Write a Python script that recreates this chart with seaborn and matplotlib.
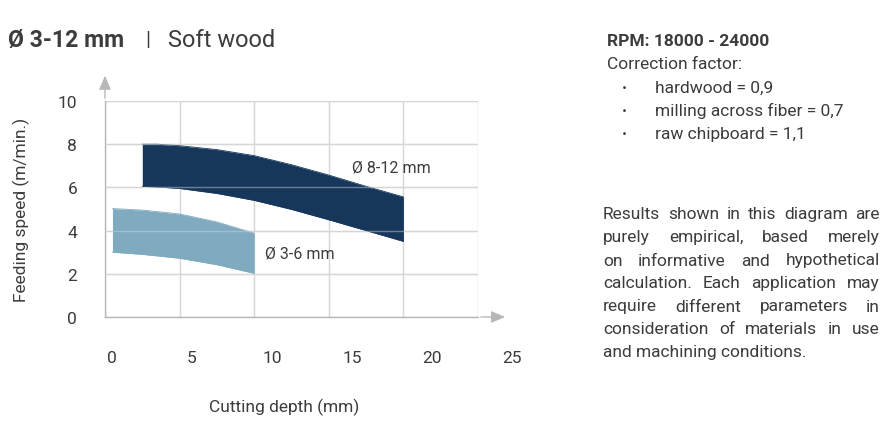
import matplotlib
matplotlib.use("Agg")
import matplotlib.pyplot as plt
import seaborn as sns

# band data (cutting depth mm -> feeding speed m/min)
big_x = [2.5, 3.5, 5, 7.5, 10, 12.5, 15, 17.5, 20]
big_top = [8.0, 8.0, 7.93, 7.75, 7.47, 7.05, 6.57, 6.05, 5.56]
big_bottom = [6.05, 6.02, 5.95, 5.72, 5.4, 4.98, 4.5, 4.0, 3.5]

small_x = [0.5, 2.5, 5, 7.5, 10]
small_top = [5.02, 4.95, 4.77, 4.4, 3.88]
small_bottom = [3.0, 2.9, 2.72, 2.42, 2.02]

band_labels = ["\u00d8 8-12 mm", "\u00d8 3-6 mm"]
x_ticks = [0, 5, 10, 15, 20, 25]
y_ticks = [0, 2, 4, 6, 8, 10]

corrections = ["hardwood = 0,9", "milling across fiber = 0,7", "raw chipboard = 1,1"]
note_lines = [
    "Results shown in this diagram are",
    "purely empirical, based merely",
    "on informative and hypothetical",
    "calculation. Each application may",
    "require different parameters in",
    "consideration of materials in use",
    "and machining conditions.",
]

DARK = "#16375b"
LIGHT = "#7faac0"
TXT = "#3c3c3c"
GRID = "#d6d6d6"
AXC = "#b8b8b8"
FS = 12.5

sns.set_theme(style="white")
plt.rcParams["font.family"] = ["Roboto", "DejaVu Sans"]

fig = plt.figure(figsize=(8.95, 4.27), dpi=100)
ax = fig.add_axes([0.1173, 0.2553, 0.4168, 0.5058])

ax.fill_between(big_x, big_bottom, big_top, color=DARK, lw=0, zorder=2)
ax.fill_between(small_x, small_bottom, small_top, color=LIGHT, lw=0, zorder=2)
sns.lineplot(x=big_x, y=big_top, ax=ax, color=DARK, lw=0.6, zorder=2)
sns.lineplot(x=big_x, y=big_bottom, ax=ax, color=DARK, lw=0.6, zorder=2)
sns.lineplot(x=small_x, y=small_top, ax=ax, color=LIGHT, lw=0.6, zorder=2)
sns.lineplot(x=small_x, y=small_bottom, ax=ax, color=LIGHT, lw=0.6, zorder=2)

ax.text(16.55, 6.94, band_labels[0], color=TXT, fontsize=11.5, va="center", ha="left", zorder=3)
ax.text(10.72, 2.96, band_labels[1], color=TXT, fontsize=11.5, va="center", ha="left", zorder=3)

ax.set_xlim(0, 25)
ax.set_ylim(0, 10)
ax.set_xticks(x_ticks)
ax.set_xticklabels([])
ax.set_yticks(y_ticks)
ax.set_yticklabels([str(v) for v in y_ticks], color=TXT, fontsize=FS)
ax.tick_params(axis="both", length=0)
ax.tick_params(axis="y", pad=20)
# full grid under the bands, horizontal lines also faintly over them
ax.grid(True, color=GRID, lw=1, zorder=0)
for v in y_ticks[1:]:
    ax.axhline(v, color=GRID, lw=1, alpha=0.45, zorder=2.5)
ax.set_axisbelow(True)
for s in ["top", "right"]:
    ax.spines[s].set_visible(False)
for s in ["left", "bottom"]:
    ax.spines[s].set_color(AXC)
    ax.spines[s].set_linewidth(1)
    ax.spines[s].set_zorder(1.5)

# axis arrows
ax.annotate("", xy=(0, 11.3), xytext=(0, 10), annotation_clip=False,
            arrowprops=dict(arrowstyle="-|>,head_length=0.7,head_width=0.3", color=AXC, lw=1))
ax.annotate("", xy=(27.0, 0), xytext=(25, 0), annotation_clip=False,
            arrowprops=dict(arrowstyle="-|>,head_length=0.7,head_width=0.3", color=AXC, lw=1))

# x tick labels are spaced wider than the grid in the original: separate label axis
lab = fig.add_axes([112 / 895, 0.2553, 400 / 895, 0.001])
lab.set_xlim(0, 25)
lab.set_xticks(x_ticks)
lab.set_xticklabels([str(v) for v in x_ticks], color=TXT, fontsize=FS)
lab.set_yticks([])
lab.tick_params(length=0, pad=24)
lab.patch.set_alpha(0)
for s in lab.spines.values():
    s.set_visible(False)

ax.set_ylabel("Feeding speed (m/min.)", color=TXT, fontsize=FS)
ax.yaxis.set_label_coords(-0.2, 0.5)
fig.text(0.318, 0.045, "Cutting depth (mm)", color=TXT, fontsize=FS, ha="center", va="center")

# title
fig.text(0.009, 0.905, "\u00d8 3-12 mm", color=TXT, fontsize=16.7, fontweight="bold", va="center")
fig.text(0.162, 0.905, "|", color=TXT, fontsize=15, va="center")
fig.text(0.188, 0.905, "Soft wood", color=TXT, fontsize=17, va="center")

# right side text
fig.text(0.678, 0.902, "RPM: 18000 - 24000", color=TXT, fontsize=FS, fontweight="bold", va="center")
fig.text(0.678, 0.848, "Correction factor:", color=TXT, fontsize=FS, va="center")
for i, c in enumerate(corrections):
    y = 0.793 - i * 0.054
    fig.text(622 / 895, y, "\u00b7", color=TXT, fontsize=FS, va="center", fontweight="bold")
    fig.text(655 / 895, y, c, color=TXT, fontsize=FS, va="center")

# justified paragraph
renderer = fig.canvas.get_renderer()
left_px, right_px = 603, 880
for i, line in enumerate(note_lines):
    y = 1 - (215 + i * 23.0) / 427
    words = line.split(" ")
    if i == len(note_lines) - 1:
        fig.text(left_px / 895, y, line, color=TXT, fontsize=FS, va="center")
        continue
    items = [fig.text(0, y, w, color=TXT, fontsize=FS, va="center") for w in words]
    widths = [t.get_window_extent(renderer).width for t in items]
    gap = (right_px - left_px - sum(widths)) / (len(words) - 1)
    xpos = left_px
    for t, w in zip(items, widths):
        t.set_x(xpos / 895)
        xpos += w + gap

fig.savefig("out.png", dpi=100)
